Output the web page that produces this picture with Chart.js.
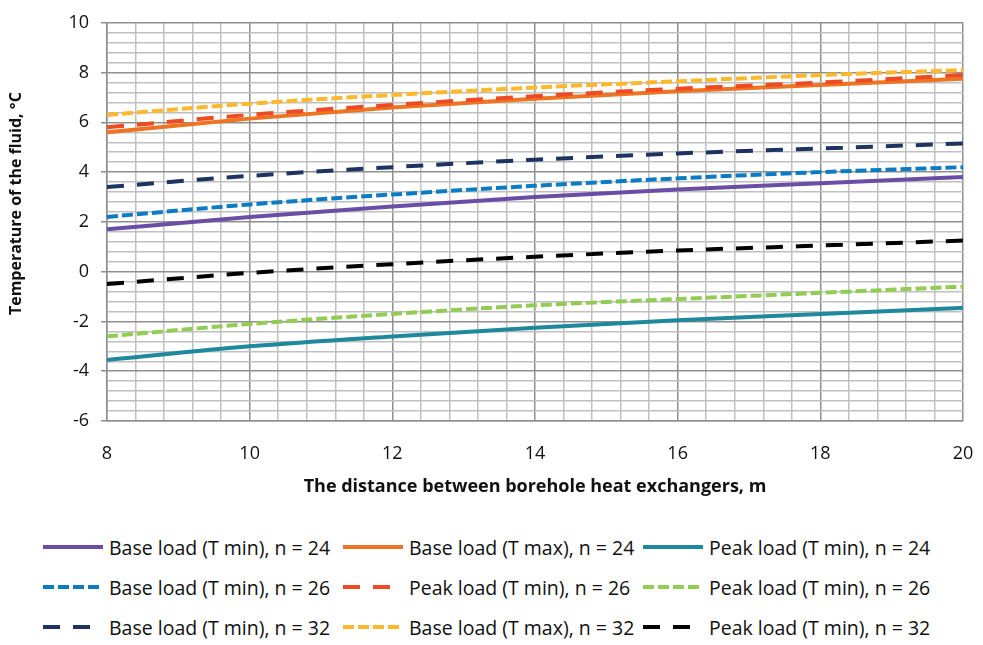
<!DOCTYPE html>
<html>
<head>
<meta charset="utf-8">
<script src="https://cdn.jsdelivr.net/npm/chart.js@4"></script>
<style>
  body { margin: 0; background: #fff; font-family: "Open Sans", sans-serif; }
  #wrap { position: relative; width: 983px; height: 645px; }
  #box { position: absolute; left: 0; top: 0; width: 983px; height: 510px; }
  .item { position: absolute; height: 24px; display: flex; align-items: center; font-size: 19.5px; color: #111; white-space: nowrap; }
  .item svg { margin-right: 6px; }
</style>
</head>
<body>
<div id="wrap">
  <div id="box"><canvas id="chart"></canvas></div>
  <div id="legend"></div>
</div>
<script>
// distance between borehole heat exchangers, m
const distances = [8, 10, 12, 14, 16, 18, 20];

// fluid temperature, °C
const baseMin24 = [1.7, 2.2, 2.62, 3.0, 3.3, 3.55, 3.8];
const baseMax24 = [5.6, 6.15, 6.6, 6.95, 7.25, 7.5, 7.75];
const peakMin24 = [-3.55, -3.0, -2.6, -2.25, -1.95, -1.7, -1.45];
const baseMin26 = [2.2, 2.7, 3.1, 3.45, 3.75, 4.0, 4.2];
const peakMin26a = [5.8, 6.3, 6.7, 7.05, 7.35, 7.6, 7.9];
const peakMin26b = [-2.6, -2.1, -1.7, -1.35, -1.1, -0.85, -0.6];
const baseMin32 = [3.4, 3.85, 4.2, 4.5, 4.75, 4.95, 5.15];
const baseMax32 = [6.3, 6.75, 7.1, 7.4, 7.65, 7.9, 8.1];
const peakMin32 = [-0.5, -0.05, 0.3, 0.6, 0.85, 1.05, 1.25];

const labels = [
  "Base load (T min), n = 24", "Base load (T max), n = 24", "Peak load (T min), n = 24",
  "Base load (T min), n = 26", "Peak load (T min), n = 26", "Peak load (T min), n = 26",
  "Base load (T min), n = 32", "Base load (T max), n = 32", "Peak load (T min), n = 32"
];
const series = [baseMin24, baseMax24, peakMin24, baseMin26, peakMin26a, peakMin26b, baseMin32, baseMax32, peakMin32];
const colors = ["#6a4ea6", "#ef7422", "#1e889c", "#0b7cc3", "#ee4a24", "#93cc55", "#1d3461", "#fdb82c", "#000000"];
const shortDash = [11, 4];
const longDash = [17, 13];
const dashes = [[], [], [], shortDash, longDash, shortDash, longDash, shortDash, longDash];

const datasets = series.map((vals, i) => ({
  label: labels[i],
  data: vals.map((v, j) => ({ x: distances[j], y: v })),
  borderColor: colors[i],
  borderDash: dashes[i],
  borderWidth: 4,
  pointRadius: 0,
  cubicInterpolationMode: "monotone",
  fill: false
}));

// first series in the legend end up underneath
datasets.forEach((d, i) => d.order = series.length - i);

const isMajor = v => Math.abs(v / 2 - Math.round(v / 2)) < 1e-6;
const gridColor = ctx => (ctx.tick && isMajor(ctx.tick.value)) ? "#8f8f8f" : "#c0c0c0";

Chart.defaults.font.family = '"Open Sans", sans-serif';
Chart.defaults.color = "#111";

new Chart(document.getElementById("chart"), {
  type: "line",
  data: { datasets },
  options: {
    responsive: true,
    maintainAspectRatio: false,
    animation: false,
    layout: { padding: { top: 15, right: 20, left: 0, bottom: 0 } },
    plugins: { legend: { display: false }, tooltip: { enabled: false } },
    scales: {
      x: {
        type: "linear",
        min: 8, max: 20,
        afterFit: s => { s.height = 89; },
        ticks: {
          stepSize: 0.4, autoSkip: false, maxRotation: 0, padding: 4,
          font: { size: 18 },
          callback: v => isMajor(v) ? Math.round(v) : ""
        },
        // invisible tick marks just push the labels down
        grid: { color: gridColor, lineWidth: 1.5, tickLength: 18, tickColor: "rgba(0,0,0,0)" },
        border: { color: "#8f8f8f", width: 1.5 },
        title: {
          display: true, text: "The distance between borehole heat exchangers, m",
          font: { size: 18, weight: "bold" }, padding: { top: 0, bottom: 12 }
        }
      },
      y: {
        min: -6, max: 10,
        afterFit: s => { s.width = 107; },
        ticks: {
          stepSize: 0.4, autoSkip: false, padding: 12,
          font: { size: 18 },
          callback: v => isMajor(v) ? Math.round(v) : ""
        },
        grid: {
          color: gridColor, lineWidth: 1.5, tickLength: 6,
          tickColor: ctx => (ctx.tick && isMajor(ctx.tick.value)) ? "#8f8f8f" : "rgba(0,0,0,0)"
        },
        border: { color: "#8f8f8f", width: 1.5 },
        title: {
          display: true, text: "\u2007\u2007\u2007\u2007Temperature of the fluid, °C",
          font: { size: 16, weight: "bold" }, padding: { top: 7, bottom: 0 }
        }
      }
    }
  }
});

// legend: 3 columns x 3 rows, like the original
const colX = [43, 343, 643];
const rowY = [547, 587, 627];
const legend = document.getElementById("legend");
labels.forEach((text, i) => {
  const el = document.createElement("div");
  el.className = "item";
  el.style.left = colX[i % 3] + "px";
  el.style.top = (rowY[Math.floor(i / 3)] - 12) + "px";
  const dash = dashes[i].length ? `stroke-dasharray="${dashes[i].join(" ")}"` : "";
  el.innerHTML = `<svg width="60" height="20"><line x1="0" y1="10" x2="60" y2="10" stroke="${colors[i]}" stroke-width="4" ${dash}/></svg><span>${text}</span>`;
  legend.appendChild(el);
});
</script>
</body>
</html>
